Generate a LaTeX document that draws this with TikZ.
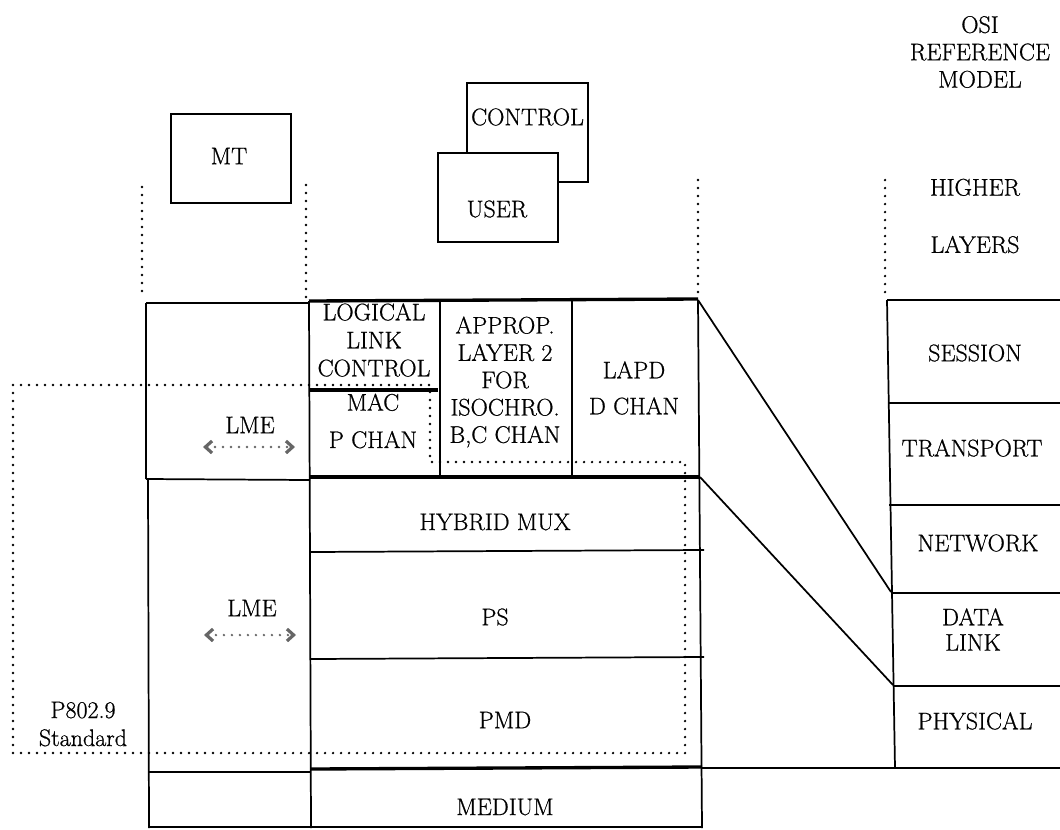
\documentclass[tikz,border=0pt]{standalone}
\usepackage{fontspec}
\newfontfamily\darkrm{Latin Modern Roman}[FakeBold=0.7]
\usetikzlibrary{arrows.meta}
\begin{document}
\begin{tikzpicture}[x=0.75pt,y=-0.75pt,
  ln/.style={line width=1.3pt},
  thk/.style={line width=2.5pt},
  dots/.style={line width=1.9pt, line cap=round, dash pattern=on 0pt off 6pt},
  lbl/.style={inner sep=0pt, font=\darkrm\fontsize{18}{21}\selectfont, align=center},
  lbltight/.style={inner sep=0pt, font=\darkrm\fontsize{18}{20.5}\selectfont, align=center},
  box/.style={draw, line width=1.5pt, inner sep=0pt},
  barb/.tip={Straight Barb[length=5pt,width=9pt,line width=2.4pt]},
  lmearrow/.style={dots, draw=black!60, {barb}-{barb}}
]
\useasboundingbox (0,0) rectangle (1060,829);

% ---------- top boxes ----------
\node[box, minimum width=90.75pt, minimum height=74.25pt] (ctrlbox) at (527.5,132.5) {};
\node[lbl] (ctrl) at (527.5,117) {CONTROL};
\node[box, fill=white, minimum width=90pt, minimum height=66.75pt] (userbox) at (498,197.5) {};
\node[lbl] (user) at (497,209) {USER};
\node[box, minimum width=90pt, minimum height=66.75pt] (mtbox) at (231,158.5) {};
\node[lbl] (mt) at (229,156) {MT};

% ---------- OSI heading ----------
\node[lbltight] (osi) at (980,52) {OSI\\REFERENCE\\MODEL};
\node[lbl] (higher) at (975,216) {HIGHER\\[22pt]LAYERS};

% ---------- dotted guides at top ----------
\draw[dots] (142,187) -- (142,297);
\draw[dots] (306,185) -- (306,297);
\draw[dots] (698,180) -- (698,292);
\draw[dots] (885,180) -- (885,292);

% ---------- main stack frame ----------
\draw[ln] (146,303) -- (309,303);
\draw[thk] (309,301) -- (698,299);
\draw[ln] (146,303) -- (146,479);
\draw[ln] (148,479) -- (149,828);
\draw[ln] (309,301) -- (311,828);
\draw[ln] (698,300) -- (702,828);
\draw[ln] (440,301) -- (440,476);
\draw[ln] (572,300) -- (572,476);
\draw[thk] (309,390) -- (438,390);
\draw[ln] (146,479) -- (310,480);
\draw[thk] (310,477) -- (700,477);
\draw[ln] (310,552) -- (704,550);
\draw[ln] (311,659) -- (704,657);
\draw[ln] (148,772) -- (311,772);
\draw[thk] (311,769) -- (702,767);
\draw[ln] (702,768) -- (1060,768);
\draw[ln] (149,827) -- (702,827);

% ---------- OSI column ----------
\draw[ln] (887,300) -- (895,768);
\draw[ln] (887,300) -- (1060,300);
\draw[ln] (888,403) -- (1060,403);
\draw[ln] (889,505) -- (1060,505);
\draw[ln] (891,593) -- (1060,593);
\draw[ln] (893,686) -- (1060,686);

% ---------- mapping lines ----------
\coordinate (l2top) at (698,300);
\coordinate (l2bot) at (700,477);
\coordinate (dltop) at (891,592);
\coordinate (dlbot) at (893,685);
\draw[ln] (l2top) -- (dltop);
\draw[ln] (l2bot) -- (dlbot);

% ---------- P802.9 boundary ----------
\draw[dots] (13,385) -- (430,385) -- (430,462) -- (685,462) -- (685,753) -- (13,753) -- cycle;

% ---------- stack labels ----------
\node[lbl] (llc) at (374,340) {LOGICAL\\LINK\\CONTROL};
\node[lbl] (mac) at (373,421) {MAC\\[7pt]P CHAN};
\node[lbltight] (approp) at (505,382) {APPROP.\\LAYER 2\\FOR\\ISOCHRO.\\B,C CHAN};
\node[lbl] (lapd) at (634,388) {LAPD\\[6pt]D CHAN};
\node[lbl] (lme1) at (250,425) {LME};
\coordinate (a1l) at (203,447);
\coordinate (a1r) at (295,447);
\draw[lmearrow] (a1l) -- (a1r);
\node[lbl] (lme2) at (252,608) {LME};
\coordinate (a2l) at (204,635);
\coordinate (a2r) at (296,635);
\draw[lmearrow] (a2l) -- (a2r);
\node[lbl] (hmux) at (495,522) {HYBRID MUX};
\node[lbl] (ps) at (495,617) {PS};
\node[lbl] (pmd) at (505,720) {PMD};
\node[lbl] (medium) at (505,807) {MEDIUM};
\node[lbl] (p8029) at (83,724) {P802.9\\Standard};

% ---------- OSI labels ----------
\node[lbl] (session) at (975,353) {SESSION};
\node[lbl] (transport) at (972,448) {TRANSPORT};
\node[lbl] (network) at (978,543) {NETWORK};
\node[lbl] (datalink) at (973,629.5) {DATA\\[-2pt]LINK};
\node[lbl] (physical) at (975,721) {PHYSICAL};
\end{tikzpicture}
\end{document}
